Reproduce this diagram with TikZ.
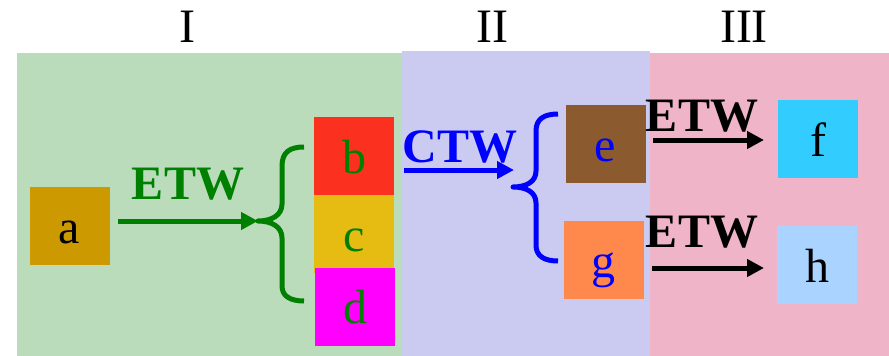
\documentclass[tikz,border=0pt]{standalone}
\usepackage{fontspec}
\setmainfont{Liberation Serif}
\usetikzlibrary{arrows.meta}
\definecolor{bgI}{RGB}{186,220,187}
\definecolor{bgII}{RGB}{203,203,242}
\definecolor{bgIII}{RGB}{240,180,200}
\definecolor{ca}{RGB}{204,153,0}
\definecolor{cb}{RGB}{252,48,30}
\definecolor{cc}{RGB}{230,188,18}
\definecolor{cd}{RGB}{255,0,255}
\definecolor{ce}{RGB}{139,90,46}
\definecolor{cg}{RGB}{255,136,76}
\definecolor{cf}{RGB}{51,204,255}
\definecolor{ch}{RGB}{170,212,255}
\definecolor{dgreen}{RGB}{0,128,0}
\begin{document}
\begin{tikzpicture}[x=1pt,y=-1pt,
  box/.style={inner sep=0pt, minimum width=80pt, text height=56pt, text depth=22pt, font=\fontsize{48}{48}\selectfont},
  big/.style={inner sep=0pt, anchor=base, font=\fontsize{48}{48}\selectfont},
  lbl/.style={inner sep=0pt, anchor=base, font=\bfseries\fontsize{48}{48}\selectfont},
  arr/.style={line width=5pt, -{Triangle[length=17pt,width=17pt]}},
  brc/.style={line width=5pt, line join=round}]
\useasboundingbox (0,0) rectangle (889,356);
% regions
\fill[bgI] (17,53) rectangle (402,356);
\fill[bgII] (402,51) rectangle (650,356);
\fill[bgIII] (650,53) rectangle (889,356);
% roman numerals
\node[big] (r1) at (187,42) {I};
\node[big] (r2) at (492,42) {II};
\node[big] (r3) at (744,42) {III};
% boxes
\node[box, fill=ca] (a) at (69.5,226) {a};
\node[box, fill=cb, text=dgreen] (b) at (354,156) {b};
\node[box, fill=cc, text=dgreen] (c) at (354,234) {c};
\node[box, fill=cd, text=dgreen] (d) at (355,306.5) {d};
\node[box, fill=ce, text=blue] (e) at (605.5,144) {e};
\node[box, fill=cg, text=blue] (g) at (603.5,260) {g};
\node[box, fill=cf] (f) at (818,139) {f};
\node[box, fill=ch] (h) at (817,265) {h};
% labels
\node[lbl, text=dgreen] (l1) at (188,199) {ETW};
\node[lbl, text=blue] (l2) at (460,162) {CTW};
\node[lbl] (l3) at (702,131) {ETW};
\node[lbl] (l4) at (702,247) {ETW};
% coordinates
\coordinate (gs) at (118,221);
\coordinate (gt) at (258,221);
\coordinate (gtop) at (304,147);
\coordinate (gbot) at (304,301);
\coordinate (bs) at (404,170);
\coordinate (be) at (514,170);
\coordinate (bt) at (513,187);
\coordinate (btop) at (558,114);
\coordinate (bbot) at (558,261);
\coordinate (k1s) at (653,140);
\coordinate (k1e) at (764,140);
\coordinate (k2s) at (652,268);
\coordinate (k2e) at (764,268);
% green arrow and brace
\draw[arr, draw=dgreen, fill=dgreen] (gs) -- (gt);
\draw[brc, dgreen] (gtop) .. controls (290,147) and (282,152) .. (282,166) -- (282,204)
  .. controls (282,215) and (272,221) .. (gt)
  .. controls (272,221) and (282,227) .. (282,238) -- (282,286)
  .. controls (282,296) and (290,301) .. (gbot);
% blue arrow and brace
\draw[arr, draw=blue, fill=blue] (bs) -- (be);
\draw[brc, blue] (btop) .. controls (544,114) and (536,119) .. (536,131) -- (536,171)
  .. controls (536,182) and (526,187) .. (bt)
  .. controls (526,187) and (536,192) .. (536,203) -- (536,245)
  .. controls (536,256) and (544,261) .. (bbot);
% black arrows
\draw[arr] (k1s) -- (k1e);
\draw[arr] (k2s) -- (k2e);
\end{tikzpicture}
\end{document}
